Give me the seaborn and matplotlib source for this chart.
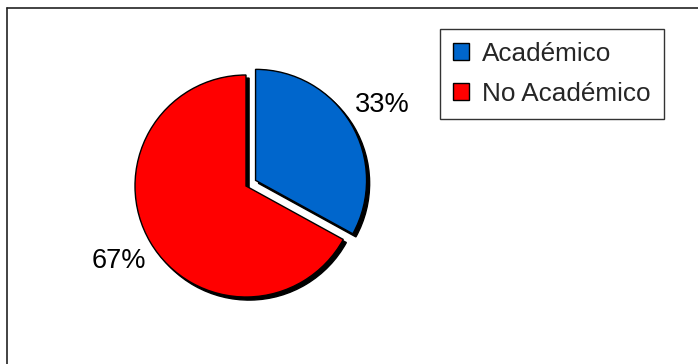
import matplotlib
matplotlib.use("Agg")
import matplotlib.pyplot as plt
import matplotlib.patches as mpatches
from matplotlib.lines import Line2D
import seaborn as sns

categorias = ["Académico", "No Académico"]
porcentajes = [33, 67]
colores = ["#0066CC", "#FF0000"]
separacion = [0.1, 0.0]

sns.set_style("white")
plt.rcParams["font.family"] = ["Liberation Sans", "DejaVu Sans"]

W, H = 698, 364
fig = plt.figure(figsize=(W / 100, H / 100), dpi=100)

# eje cuadrado de 300x300 px con el centro de la torta en (246, 186)
R = 111
ax = fig.add_axes([96 / W, 28 / H, 300 / W, 300 / H])
wedges, texts, autotexts = ax.pie(
    porcentajes, colors=colores, explode=separacion, startangle=90,
    counterclock=False, autopct="%1.0f%%", pctdistance=1.33,
    wedgeprops={"edgecolor": "black", "linewidth": 1.0},
    shadow={"ox": 0.02, "oy": -0.02, "shade": 1.0, "alpha": 1.0},
    textprops={"fontsize": 19.5, "color": "black"})
lim = 150 / R
ax.set_xlim(-lim, lim)
ax.set_ylim(-lim, lim)
ax.set_axis_off()

handles = [mpatches.Patch(facecolor=c, edgecolor="black", linewidth=1.0)
           for c in colores]
leg = fig.legend(handles, categorias, loc="upper left",
                 bbox_to_anchor=(440 / W, 1 - 29 / H),
                 bbox_transform=fig.transFigure, fontsize=18.8,
                 frameon=True, fancybox=False, shadow=False,
                 handlelength=0.62, handleheight=0.62, handletextpad=0.5,
                 labelspacing=0.6, borderpad=0.5, borderaxespad=0)
leg.get_frame().set_edgecolor("black")
leg.get_frame().set_linewidth(1.0)

# marco exterior: solo se ven los bordes superior e izquierdo
fig.add_artist(Line2D([7.5 / W, 7.5 / W], [0, 1 - 7.5 / H], color="#222222",
                      linewidth=1.2, transform=fig.transFigure))
fig.add_artist(Line2D([7.5 / W, 1], [1 - 7.5 / H, 1 - 7.5 / H], color="#222222",
                      linewidth=1.2, transform=fig.transFigure))

fig.savefig("out.png", dpi=100)
